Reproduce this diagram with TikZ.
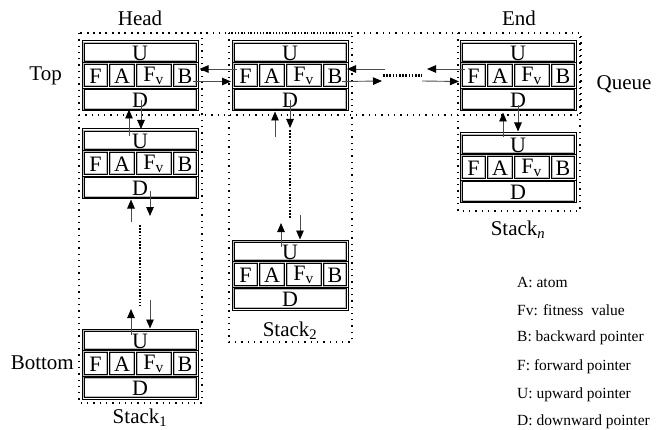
\documentclass[tikz,border=0pt]{standalone}
\usepackage{fontspec}
\setmainfont{Liberation Serif}
\usetikzlibrary{calc,arrows.meta}
\tikzset{
  recbox/.style={draw=black, line width=1pt, minimum width=116pt, minimum height=70pt, inner sep=0pt, outer sep=0pt},
  rowbox/.style={draw=black, line width=0.6pt, preaction={draw=gray!55, line width=2pt}},
  celltxt/.style={inner sep=0pt, font=\fontsize{22}{24}\selectfont},
  lbl/.style={inner sep=0pt, font=\fontsize{21}{23}\selectfont},
  legend/.style={inner sep=0pt, anchor=west, font=\fontsize{15.5}{17}\selectfont},
  dotbox/.style={draw=black, line width=1.3pt, dash pattern=on 1.3pt off 5pt},
  dotlink/.style={draw=black, line width=2.2pt, dash pattern=on 1.6pt off 1.6pt},
  ptr/.style={draw=black!70, line width=0.9pt, -{Triangle[length=9pt,width=7.5pt,fill=black,color=black]}}
}
\newcommand\record[3]{%
  \node[recbox, anchor=north west] (#1) at (#2,#3) {};
  \draw[rowbox] ($(#1.north west)+(2,2)$) rectangle ($(#1.north west)+(114,20)$);
  \draw[rowbox] ($(#1.north west)+(2,23)$) rectangle ($(#1.north west)+(25,45.5)$);
  \draw[rowbox] ($(#1.north west)+(27.5,23)$) rectangle ($(#1.north west)+(52,45.5)$);
  \draw[rowbox] ($(#1.north west)+(54.5,23)$) rectangle ($(#1.north west)+(89,45.5)$);
  \draw[rowbox] ($(#1.north west)+(91.5,23)$) rectangle ($(#1.north west)+(114,45.5)$);
  \draw[rowbox] ($(#1.north west)+(2,48.5)$) rectangle ($(#1.north west)+(114,68)$);
  \draw[black, line width=0.8pt] ($(#1.north west)+(0,21.5)$) -- ($(#1.north east)+(0,21.5)$);
  \draw[black, line width=0.8pt] ($(#1.north west)+(0,47)$) -- ($(#1.north east)+(0,47)$);
  \node[celltxt] (#1-U) at ($(#1.north west)+(58,12)$) {U};
  \node[celltxt] (#1-F) at ($(#1.north west)+(13.5,35)$) {F};
  \node[celltxt] (#1-A) at ($(#1.north west)+(40,35)$) {A};
  \node[celltxt] (#1-V) at ($(#1.north west)+(71.5,35)$) {F\textsubscript{v}};
  \node[celltxt] (#1-B) at ($(#1.north west)+(103,35)$) {B};
  \node[celltxt] (#1-D) at ($(#1.north west)+(58,59)$) {D};
}
\begin{document}
\begin{tikzpicture}[x=1pt,y=-1pt]
\useasboundingbox (0,0) rectangle (668,430);
% dotted frames
\draw[dotbox] (79,33) rectangle (202,403);
\draw[dotbox] (229,33) rectangle (352,342);
\draw[dotbox] (458,33) rectangle (580,211);
\draw[dotbox] (79,33) rectangle (581,115);
% records
\record{h1}{82}{41}
\record{s1b}{82}{129}
\record{s1c}{82}{329}
\record{q2}{232}{41}
\record{s2b}{232}{240}
\record{qn}{460}{41}
\record{snb}{460}{133}
% labels
\node[lbl] (head) at (140,18) {Head};
\node[lbl] (end) at (519,18) {End};
\node[lbl, anchor=east] (top) at (62,76) {Top};
\node[lbl] (queue) at (624,84) {Queue};
\node[lbl, anchor=east] (bottom) at (74,363) {Bottom};
\node[lbl] (st1) at (140,418) {Stack\textsubscript{1}};
\node[lbl] (st2) at (290,331) {Stack\textsubscript{2}};
\node[lbl] (stn) at (518,230) {Stack\textsubscript{\itshape n}};
% legend
\node[legend] (l1) at (517,282) {A: atom};
\node[legend] (l2) at (517,310) {Fv: fitness\ \ value};
\node[legend] (l3) at (517,338) {B: backward pointer};
\node[legend] (l4) at (517,367) {F: forward pointer};
\node[legend] (l5) at (517,395) {U: upward pointer};
\node[legend] (l6) at (517,422) {D: downward pointer};
% horizontal pointers
\draw[ptr] ($(q2.north west)+(4.5,28)$) -- ($(h1.north east)+(1.5,28)$);
\draw[ptr] ($(h1.north east)+(-5,40.5)$) -- ($(q2.north west)+(-1,40.5)$);
\coordinate (m1) at (385,69);
\coordinate (m2) at (382,81);
\coordinate (m3) at (427,69);
\coordinate (m4) at (422,81);
\draw[ptr] (m1) -- ($(q2.north east)+(-1,28)$);
\draw[ptr] ($(q2.north east)+(-6,40.5)$) -- (m2);
\draw[dotlink] (383,75.5) -- (422,75.5);
\draw[ptr] ($(qn.north west)+(5,28)$) -- (m3);
\draw[ptr] (m4) -- ($(qn.north west)+(-1,40.5)$);
% vertical pointers: stack 1
\draw[ptr] ($(s1b.north west)+(47,7)$) -- ($(h1.south west)+(47,-1.5)$);
\draw[ptr] ($(h1.south west)+(59,-11)$) -- ($(s1b.north west)+(59,0)$);
\draw[ptr] ($(s1b.south west)+(49,23)$) -- ($(s1b.south west)+(49,0.5)$);
\draw[ptr] ($(s1b.south west)+(68,-8)$) -- ($(s1b.south west)+(68,17)$);
\draw[dotlink] ($(s1b.south west)+(58,26)$) -- ($(s1c.north west)+(58,-23)$);
\draw[ptr] ($(s1c.north west)+(49,6)$) -- ($(s1c.north west)+(49,-20)$);
\draw[ptr] ($(s1c.north west)+(68,-29)$) -- ($(s1c.north west)+(68,-0.5)$);
% stack 2
\draw[ptr] ($(q2.south west)+(43,26)$) -- ($(q2.south west)+(43,0.5)$);
\draw[ptr] ($(q2.south west)+(58,-11)$) -- ($(q2.south west)+(58,17)$);
\draw[dotlink] ($(q2.south west)+(58,19)$) -- ($(s2b.north west)+(58,-22)$);
\draw[ptr] ($(s2b.north west)+(49,7)$) -- ($(s2b.north west)+(49,-17)$);
\draw[ptr] ($(s2b.north west)+(68,-25)$) -- ($(s2b.north west)+(68,-0.5)$);
% stack n
\draw[ptr] ($(snb.north west)+(43,4)$) -- ($(qn.south west)+(43,1.5)$);
\draw[ptr] ($(qn.south west)+(58,-6)$) -- ($(snb.north west)+(58,-1.5)$);
\end{tikzpicture}
\end{document}
